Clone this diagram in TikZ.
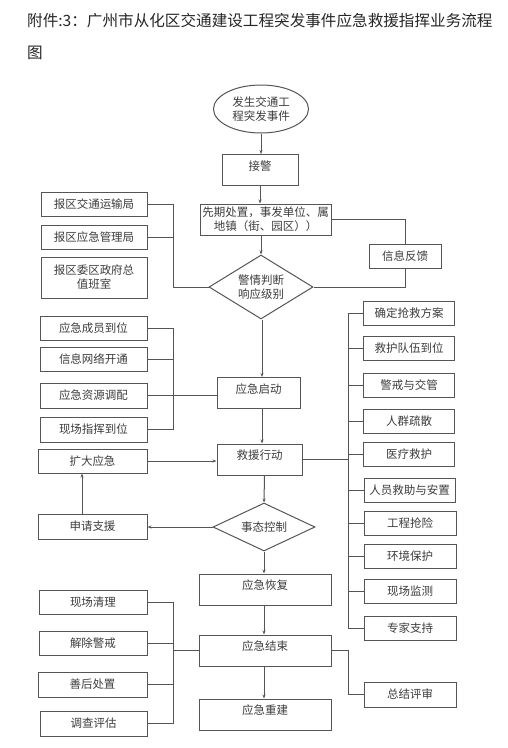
\documentclass[tikz,border=0pt]{standalone}
\usepackage{fontspec}
\setmainfont{Noto Sans CJK SC}
\usetikzlibrary{shapes.geometric,arrows.meta}
\definecolor{ln}{HTML}{555555}
\definecolor{tx}{HTML}{3C3C3C}
\newcommand\upt[1]{\raisebox{4pt}[\height][\depth]{#1}}
\begin{document}
\begin{tikzpicture}[x=1pt,y=-1pt,
  box/.style={draw=ln,line width=1pt,rectangle,inner sep=0pt,align=center,text=tx,
    font=\fontsize{11.5}{14}\selectfont},
  dia/.style={draw=ln,line width=1pt,diamond,aspect=2,inner sep=0pt,align=center,text=tx,
    font=\fontsize{11.5}{14}\selectfont},
  ell/.style={draw=ln,line width=1pt,ellipse,inner sep=0pt,align=center,text=tx,
    font=\fontsize{11.5}{14}\selectfont},
  con/.style={draw=ln,line width=1pt},
  arr/.style={con,-{Stealth[length=4pt,width=3pt]}},
  ttl/.style={inner sep=0pt,anchor=west,text=black!85,font=\fontsize{15.6}{18}\selectfont}]
\useasboundingbox (0,0) rectangle (508,748);
% title
\node[ttl] (t1) at (27,20.5) {附件:3：广州市从化区交通建设工程突发事件应急救援指挥业务流程};
\node[ttl] (t2) at (27,53) {图};
% main column
\node[ell,minimum width=95pt,minimum height=48pt] (ev) at (261,109) {发生交通工\\程突发事件};
\node[box,minimum width=76pt,minimum height=31pt] (jj) at (260,170) {\upt{接警}};
\node[box,minimum width=131pt,minimum height=31pt] (xq) at (265.5,219.5) {先期处置，事发单位、属\\地镇（街、园区））};
\node[dia,minimum width=104pt,minimum height=64pt] (pd) at (261,287) {警情判断\\响应级别};
\node[box,minimum width=72pt,minimum height=24pt] (fk) at (405,256) {信息反馈};
\node[box,minimum width=83pt,minimum height=31pt] (qd) at (258.5,393) {\upt{应急启动}};
\node[box,minimum width=85pt,minimum height=31pt] (jy) at (259.5,459.5) {\upt{救援行动}};
\node[dia,minimum width=102pt,minimum height=48pt] (kz) at (264,527) {事态控制};
\node[box,minimum width=132pt,minimum height=31pt] (hf) at (265,589.5) {\upt{应急恢复}};
\node[box,minimum width=132pt,minimum height=31pt] (js) at (265,650.5) {\upt{应急结束}};
\node[box,minimum width=132pt,minimum height=31pt] (cj) at (265,714.5) {\upt{应急重建}};
% left group 1
\node[box,minimum width=106pt,minimum height=24pt] (L1) at (94,204) {报区交通运输局};
\node[box,minimum width=106pt,minimum height=24pt] (L2) at (94,237) {报区应急管理局};
\node[box,minimum width=106pt,minimum height=41pt] (L3) at (94,277.5) {报区委区政府总\\值班室};
% left group 2
\node[box,minimum width=107pt,minimum height=24pt] (M1) at (93.5,328) {应急成员到位};
\node[box,minimum width=107pt,minimum height=24pt] (M2) at (93.5,359) {信息网络开通};
\node[box,minimum width=107pt,minimum height=25pt] (M3) at (93.5,395.5) {应急资源调配};
\node[box,minimum width=107pt,minimum height=25pt] (M4) at (93.5,429.5) {现场指挥到位};
% left loop
\node[box,minimum width=109pt,minimum height=24pt] (kd) at (92.5,461) {扩大应急};
\node[box,minimum width=109pt,minimum height=25pt] (sq) at (92.5,526.5) {申请支援};
% left group 3
\node[box,minimum width=108pt,minimum height=24pt] (B1) at (93,602) {现场清理};
\node[box,minimum width=108pt,minimum height=24pt] (B2) at (93,643) {解除警戒};
\node[box,minimum width=109pt,minimum height=25pt] (B3) at (92.5,684.5) {善后处置};
\node[box,minimum width=107pt,minimum height=25pt] (B4) at (93.5,723.5) {调查评估};
% right group
\node[box,minimum width=91pt,minimum height=24pt] (R1) at (409,313) {确定抢救方案};
\node[box,minimum width=91pt,minimum height=24pt] (R2) at (409,348) {救护队伍到位};
\node[box,minimum width=91pt,minimum height=24pt] (R3) at (409,385) {警戒与交管};
\node[box,minimum width=91pt,minimum height=24pt] (R4) at (409,421) {人群疏散};
\node[box,minimum width=91pt,minimum height=24pt] (R5) at (409,454.5) {医疗救护};
\node[box,minimum width=91pt,minimum height=24pt] (R6) at (409.5,490) {人员救助与安置};
\node[box,minimum width=92pt,minimum height=24pt] (R7) at (410,523) {工程抢险};
\node[box,minimum width=92pt,minimum height=24pt] (R8) at (410,556) {环境保护};
\node[box,minimum width=92pt,minimum height=24pt] (R9) at (410,591) {现场监测};
\node[box,minimum width=92pt,minimum height=24pt] (R10) at (410,628) {专家支持};
\node[box,minimum width=92pt,minimum height=25pt] (zj) at (410,694.5) {总结评审};
% bus coordinates
\coordinate (b1) at (173,0);
\coordinate (b4) at (348,0);
% main arrows
\draw[arr] (ev.south) -- (ev.south |- jj.north);
\draw[arr] (jj.south) -- (jj.south |- xq.north);
\draw[arr] ([xshift=-4.5pt]xq.south) -- (pd.north);
\draw[arr] ([xshift=1pt]pd.south) -- ([xshift=1pt]pd.south |- qd.north);
\draw[arr] ([xshift=3.5pt]qd.south) -- ([xshift=3.5pt]qd.south |- jy.north);
\draw[arr] ([xshift=5pt]jy.south) -- (kz.north);
\draw[arr] (kz.south) -- (kz.south |- hf.north);
\draw[arr] ([xshift=-1pt]hf.south) -- ([xshift=-1pt]js.north);
\draw[arr] ([xshift=-1pt]js.south) -- ([xshift=-1pt]cj.north);
% feedback
\draw[con] (xq.east) -| (fk.north);
\draw[con] (fk.south) |- (pd.east);
% group 1
\draw[con] (L1.east) -| (b1 |- pd.west) -- (pd.west);
\draw[con] (L2.east) -- (L2.east -| b1);
% group 2
\draw[con] (M1.east) -| (b1 |- M4.east) -- (M4.east);
\draw[con] (M2.east) -- (M2.east -| b1);
\draw[con] (M3.east) -- (M3.east -| qd.west);
% loop
\draw[arr] (kd.east) -- (kd.east -| jy.west);
\draw[arr] (kz.west) -- (kz.west -| sq.east);
\draw[arr] ([xshift=-10.5pt]sq.north) -- ([xshift=-10.5pt]kd.south);
% group 3
\draw[con] (B1.east) -| (b1 |- B4.east) -- (B4.east);
\draw[con] (B2.east) -- (B2.east -| b1);
\draw[con] (B3.east) -- (B3.east -| b1);
\draw[con] (b1 |- js.west) -- (js.west);
% right group
\draw[con] (jy.east) -- (jy.east -| b4);
\draw[con] (R1.west) -| (b4 |- R10.west) -- (R10.west);
\foreach \r in {R2,R3,R4,R5,R6,R7,R8,R9} {\draw[con] (\r.west) -- (\r.west -| b4);}
% summary
\draw[con] (js.east) -| (b4 |- zj.west) -- (zj.west);
\end{tikzpicture}
\end{document}
